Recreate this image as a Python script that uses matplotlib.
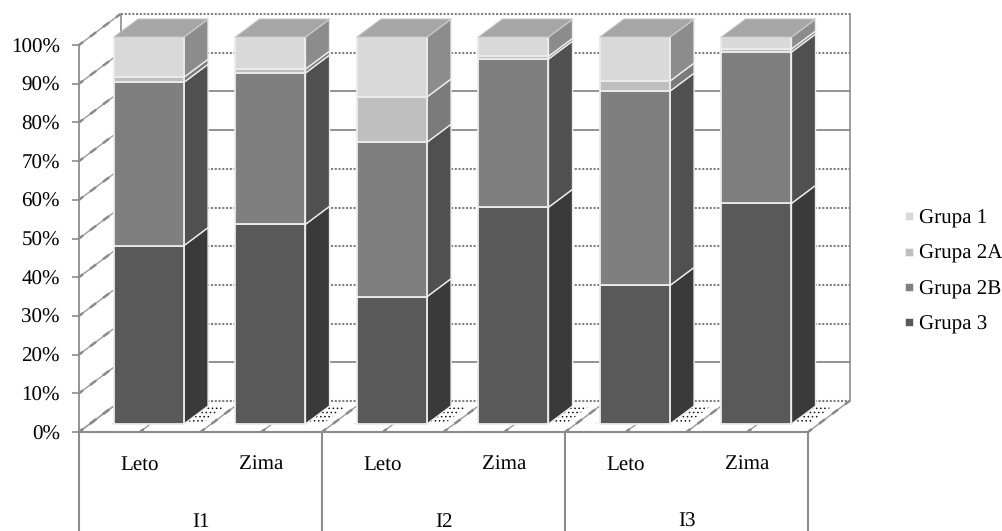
import matplotlib
matplotlib.use("Agg")
import matplotlib.pyplot as plt
from matplotlib.patches import Polygon
from matplotlib.lines import Line2D

plt.rcParams['font.family'] = ['Liberation Serif']
plt.rcParams['text.hinting'] = 'no_hinting'
plt.rcParams['text.hinting_factor'] = 1
plt.rcParams['hatch.linewidth'] = 0.6

groups = ['I1', 'I2', 'I3']
seasons = ['Leto', 'Zima', 'Leto', 'Zima', 'Leto', 'Zima']
series_names = ['Grupa 3', 'Grupa 2B', 'Grupa 2A', 'Grupa 1']
grupa3 = [46.1, 51.6, 32.9, 56.0, 35.8, 57.0]
grupa2b = [42.2, 39.1, 39.9, 38.3, 50.2, 39.1]
grupa2a = [1.3, 1.0, 11.7, 0.7, 2.6, 0.8]
grupa1 = [10.4, 8.3, 15.5, 5.0, 11.4, 3.1]
yticks = [0, 10, 20, 30, 40, 50, 60, 70, 80, 90, 100]
dotted_ticks = [0, 20, 30, 40, 50, 60, 90, 100]

front = ['#595959', '#7f7f7f', '#bfbfbf', '#d9d9d9']
side = ['#3a3a3a', '#505050', '#7a7a7a', '#8c8c8c']
top_col = ['#6a6a6a', '#969696', '#c8c8c8', '#a6a6a6']
GRID = '#8c8c8c'
EDGE = '#ececec'

W, H = 1002, 531
fig = plt.figure(figsize=(W / 100, H / 100), dpi=100)
ax = fig.add_axes([79 / W, 1 - 432 / H, 729 / W, 387 / H])
ax.set_xlim(0, 6)
ax.set_ylim(0, 100)

# depth vector in data units (full floor depth)
DX = 41.5 / 121.5
DY = 31 / 3.87


def proj(x, y, d):
    return (x + d * DX, y + d * DY)


def poly(pts, **kw):
    kw.setdefault('clip_on', False)
    p = Polygon(pts, closed=True, **kw)
    ax.add_patch(p)
    return p


def line(p0, p1, **kw):
    kw.setdefault('clip_on', False)
    kw.setdefault('color', GRID)
    kw.setdefault('lw', 1.1)
    ax.add_line(Line2D([p0[0], p1[0]], [p0[1], p1[1]], **kw))


def depth_line(p0, p1, **kw):
    # thin line with thicker blobs, as on the side wall and floor
    line(p0, p1, color='#9a9a9a', lw=1.0, **kw)
    line(p0, p1, color='#8a8a8a', lw=1.8, ls=(1, (3, 3.5)), **kw)


# gridlines on the wall and the side wall
for t in yticks:
    is_dot = t in dotted_ticks
    ls = (0, (1, 0.8)) if is_dot else '-'
    line(proj(0, t, 1), proj(6, t, 1), ls=ls, lw=1.5 if is_dot else 1.2, color='#808080', zorder=1.2)
    depth_line(proj(0, t, 0), proj(0, t, 1), zorder=1.2)
line(proj(6, 0, 1), proj(6, 100, 1), lw=1.2, zorder=1.2)
line(proj(0, 0, 1), proj(0, 100, 1), lw=1.2, zorder=1.2)
# floor depth lines
for k in range(0, 7):
    depth_line(proj(k, 0, 0), proj(k, 0, 1), zorder=1.2)
for k in range(6):
    depth_line(proj(k + 0.5, 0, 0), proj(k + 0.5, 0, 1), zorder=1.2)

# bars
data = [grupa3, grupa2b, grupa2a, grupa1]
BW = 70 / 121.5
D0 = 8 / 31
D1 = 26 / 31
XOFF = (121.5 - 70) / 2 / 121.5 - 1.5 / 121.5
for i in range(6):
    x0 = i + XOFF
    x1 = x0 + BW
    # dotted shadows on the floor
    poly([proj(x1, 0, D0), proj(x1 + 0.14, 0, D0), proj(x1 + 0.14, 0, D1), proj(x1, 0, D1)],
         fc='none', ec='#111111', lw=0, hatch='....', zorder=1.5)
    poly([proj(x0 - 0.07, 0, D0), proj(x0, 0, D0), proj(x0, 0, D0 + 0.3)],
         fc='none', ec='#555555', lw=0, hatch='..', zorder=1.5)
    base = 0
    for s, vals in enumerate(data):
        v = vals[i]
        top = base + v
        z = 2 + i + s * 0.1
        poly([proj(x1, base, D0), proj(x1, top, D0), proj(x1, top, D1), proj(x1, base, D1)],
             fc=side[s], ec=EDGE, lw=1.0, joinstyle='round', zorder=z)
        poly([proj(x0, base, D0), proj(x1, base, D0), proj(x1, top, D0), proj(x0, top, D0)],
             fc=front[s], ec=EDGE, lw=1.3, zorder=z + 0.01)
        if s == 3:
            poly([proj(x0, top, D0), proj(x1, top, D0), proj(x1, top, D1), proj(x0, top, D1)],
                 fc=top_col[s], ec='#c4c4c4', lw=0.8, zorder=z + 0.02)
        base = top

# axis
for sp in ['top', 'right', 'bottom']:
    ax.spines[sp].set_visible(False)
ax.spines['left'].set_color(GRID)
ax.spines['left'].set_linewidth(1.3)
ax.patch.set_alpha(0)
ax.set_yticks(yticks)
ax.set_yticklabels([f'{t}%' for t in yticks], fontsize=15, color='black')
ax.tick_params(axis='y', length=4.7, width=1.2, color=GRID, pad=9)
ax.set_xticks([])

# multi level category axis
line((0, 0), (6, 0), lw=1.5, zorder=20)
low = -100 / 387 * 99
for k in (0, 2, 4, 6):
    line((k, 0), (k, low), lw=1.5, zorder=20)
for i, s in enumerate(seasons):
    ax.text(i + 0.5, -9.8, s, ha='center', va='baseline', fontsize=15, clip_on=False)
for g, k in zip(groups, (1, 3, 5)):
    ax.text(k, -24.5, g, ha='center', va='baseline', fontsize=15, clip_on=False)

# legend
order = (3, 2, 1, 0)
handles = [Line2D([], [], ls='', marker='s', ms=5.8, mfc=front[s], mec='#f4f4f4', mew=0.5) for s in order]
leg = fig.legend(handles, [series_names[s] for s in order], loc='center left',
                 bbox_to_anchor=(902.7 / W, 1 - 271.5 / H), frameon=False, fontsize=15,
                 handletextpad=0.18, labelspacing=0.785, borderpad=0, borderaxespad=0, handlelength=0.6)

fig.savefig('out.png', dpi=100)
